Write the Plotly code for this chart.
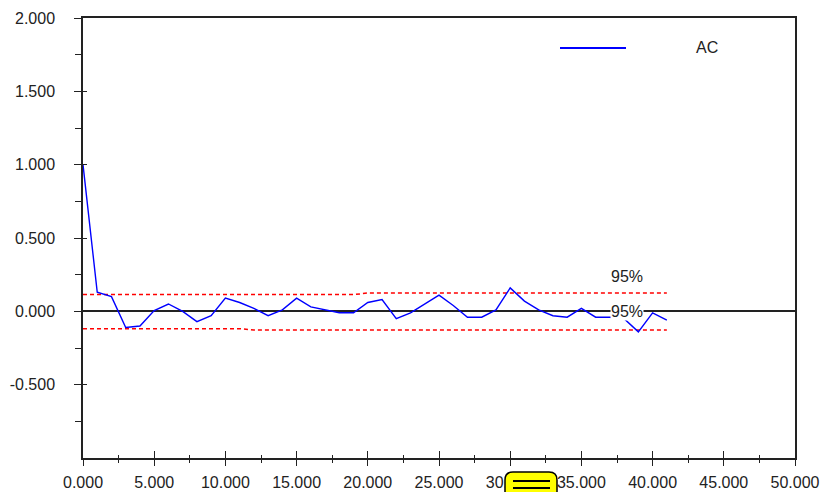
import plotly.graph_objects as go

# ---- data ----
lags = list(range(0, 42))
ac = [1.0, 0.13, 0.10, -0.11, -0.10, 0.005, 0.05, 0.0, -0.07, -0.03,
      0.09, 0.06, 0.02, -0.03, 0.01, 0.09, 0.03, 0.01, -0.01, -0.01,
      0.06, 0.08, -0.05, -0.01, 0.05, 0.11, 0.04, -0.04, -0.04, 0.01,
      0.16, 0.07, 0.01, -0.03, -0.04, 0.02, -0.04, -0.04, -0.05, -0.14,
      -0.01, -0.06]
upper95 = [0.114] * 20 + [0.125] * 22
lower95 = [-0.118] * 12 + [-0.128] * 30
series_name = "AC"
band_label = "95%"
x_ticks = [0, 5, 10, 15, 20, 25, 30, 35, 40, 45, 50]
x_tick_text = ["%.3f" % v for v in x_ticks]
y_ticks = [-0.5, 0.0, 0.5, 1.0, 1.5, 2.0]
y_tick_text = ["%.3f" % v for v in y_ticks]

FONT = "Liberation Sans, Arial, sans-serif"
TXT = "#222222"

W, H = 824, 492
PL, PT, PR, PB = 83, 18, 795, 458  # plot area in window pixels

fig = go.Figure()
fig.add_trace(go.Scatter(x=lags, y=upper95, mode="lines",
                         line=dict(color="#ff0000", width=1.5, dash="4px,3px"),
                         showlegend=False, hoverinfo="skip"))
fig.add_trace(go.Scatter(x=lags, y=lower95, mode="lines",
                         line=dict(color="#ff0000", width=1.5, dash="4px,3px"),
                         showlegend=False, hoverinfo="skip"))
fig.add_trace(go.Scatter(x=lags, y=ac, mode="lines", name=series_name,
                         line=dict(color="#0000ff", width=1.4),
                         showlegend=False))
# dummy trace to activate overlay axes (crossing ticks)
fig.add_trace(go.Scatter(x=[None], y=[None], xaxis="x2", yaxis="y2",
                         showlegend=False, hoverinfo="skip"))

axis_col = "#222222"
fig.update_layout(
    width=W, height=H,
    margin=dict(l=PL, r=W - PR, t=PT, b=H - PB, autoexpand=False),
    paper_bgcolor="white", plot_bgcolor="white",
    font=dict(family=FONT, size=16, color=TXT),
    xaxis=dict(range=[0, 50], tickvals=x_ticks, ticktext=x_tick_text,
               ticks="outside", ticklen=6, tickwidth=1.3, tickcolor=axis_col,
               minor=dict(dtick=2.5, ticks="outside", ticklen=3,
                          tickwidth=1.3, tickcolor=axis_col),
               showline=True, linecolor=axis_col, linewidth=1.5, mirror=True,
               showgrid=False, zeroline=False, ticklabelstandoff=3,
               automargin=False),
    yaxis=dict(range=[-1, 2], tickvals=y_ticks, ticktext=y_tick_text,
               ticks="outside", ticklen=7, tickwidth=1.3, tickcolor=axis_col,
               minor=dict(tickvals=[-0.75, -0.25, 0.25, 0.75, 1.25, 1.75],
                          ticks="outside", ticklen=6,
                          tickwidth=1.3, tickcolor=axis_col),
               showline=True, linecolor=axis_col, linewidth=1.5, mirror=True,
               showgrid=False, zeroline=True, zerolinecolor="#222222",
               zerolinewidth=1.5, ticklabelstandoff=16, automargin=False),
    xaxis2=dict(range=[0, 50], overlaying="x", anchor="y", side="bottom",
                tickvals=x_ticks, showticklabels=False,
                ticks="inside", ticklen=7, tickwidth=1.3, tickcolor=axis_col,
                minor=dict(dtick=2.5, ticks="inside", ticklen=3,
                           tickwidth=1.3, tickcolor=axis_col),
                showline=False, showgrid=False, zeroline=False,
                automargin=False),
    yaxis2=dict(range=[-1, 2], overlaying="y", anchor="x", side="left",
                tickvals=y_ticks, showticklabels=False,
                ticks="inside", ticklen=4, tickwidth=1.3, tickcolor=axis_col,
                showline=False, showgrid=False, zeroline=False,
                automargin=False),
    showlegend=False,
)

# 95% labels
fig.add_annotation(x=38.2, y=0.235, text=band_label, showarrow=False,
                   xanchor="center", yanchor="middle",
                   font=dict(size=16, color=TXT), xref="x", yref="y")
fig.add_annotation(x=38.2, y=0.0, text=band_label, showarrow=False,
                   xanchor="center", yanchor="middle",
                   font=dict(size=16, color=TXT), xref="x", yref="y",
                   bgcolor="white", borderpad=0)

# helpers: window pixels -> paper coords
def px_x(p):
    return (p - PL) / float(PR - PL)

def px_y(p):
    return (PB - p) / float(PB - PT)

# manual legend
fig.add_shape(type="line", xref="paper", yref="paper",
              x0=px_x(560), x1=px_x(626), y0=px_y(48), y1=px_y(48),
              line=dict(color="#0000ff", width=2))
fig.add_annotation(x=px_x(707), y=px_y(47), xref="paper", yref="paper",
                   xanchor="center", yanchor="middle",
                   text=series_name, showarrow=False,
                   font=dict(size=16, color=TXT))

# yellow widget overlay at the bottom
x0, x1, y0, y1, r = 505, 557, 472, 500, 8
path = (f"M {px_x(x0 + r)},{px_y(y0)} L {px_x(x1 - r)},{px_y(y0)} "
        f"Q {px_x(x1)},{px_y(y0)} {px_x(x1)},{px_y(y0 + r)} "
        f"L {px_x(x1)},{px_y(y1)} L {px_x(x0)},{px_y(y1)} "
        f"L {px_x(x0)},{px_y(y0 + r)} "
        f"Q {px_x(x0)},{px_y(y0)} {px_x(x0 + r)},{px_y(y0)} Z")
fig.add_shape(type="path", path=path, xref="paper", yref="paper",
              fillcolor="#ffff00", line=dict(color="#000000", width=1.5),
              layer="above")
for yy in (481, 488):
    fig.add_shape(type="line", xref="paper", yref="paper",
                  x0=px_x(513), x1=px_x(550), y0=px_y(yy), y1=px_y(yy),
                  line=dict(color="#000000", width=2), layer="above")

fig.write_html(
    "out.html",
    config={"displayModeBar": False},
    post_script="document.body.style.margin='0px';"
                "document.body.style.overflow='hidden';",
)
